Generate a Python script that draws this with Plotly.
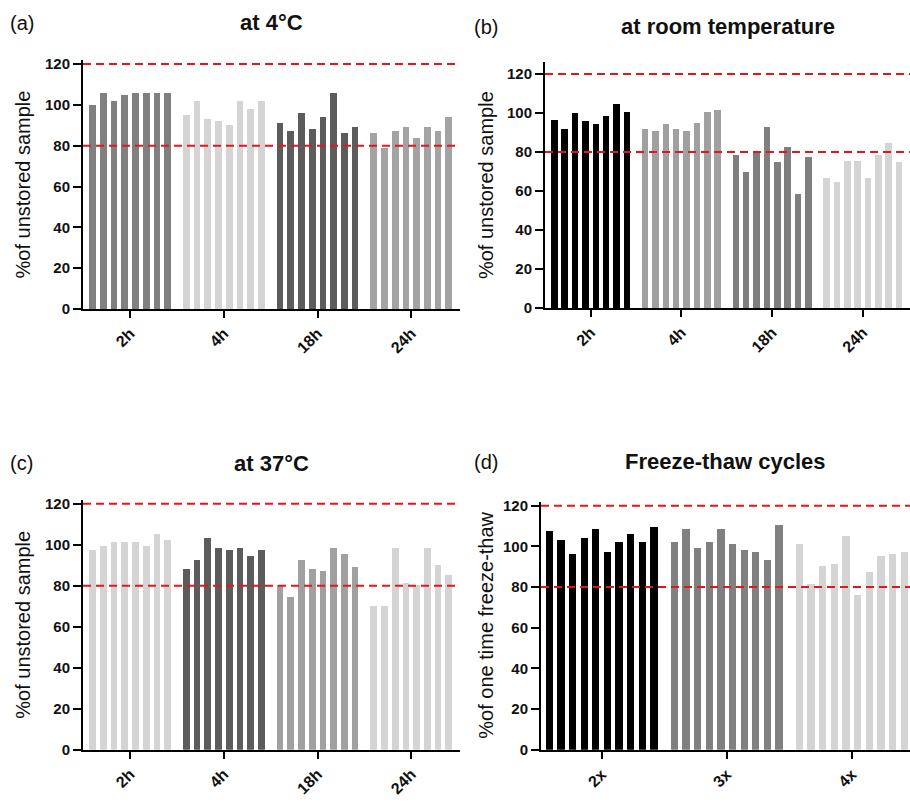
import plotly.graph_objects as go

W, H = 910, 805

# ---------------- data ----------------
a_groups = ["2h", "4h", "18h", "24h"]
a_2h = [100, 106, 102, 105, 106, 106, 106, 106]
a_4h = [95, 102, 93, 92, 90, 102, 98, 102]
a_18h = [91, 87, 96, 88, 94, 106, 86, 89]
a_24h = [86, 79, 87, 89, 84, 89, 87, 94]
a_colors = ["#808080", "#d4d4d4", "#5c5c5c", "#a3a3a3"]

b_groups = ["2h", "4h", "18h", "24h"]
b_2h = [96.5, 91.5, 100, 96, 94, 98.5, 104.5, 100.5]
b_4h = [91.5, 90.5, 94, 91.5, 90.5, 94.5, 100.5, 101.5]
b_18h = [78.5, 69.5, 79.5, 92.5, 74.5, 82.5, 58.5, 77.5]
b_24h = [66.5, 64.5, 75.5, 75.5, 66.5, 78.5, 84.5, 74.5]
b_colors = ["#000000", "#a0a0a0", "#7f7f7f", "#d4d4d4"]

c_groups = ["2h", "4h", "18h", "24h"]
c_2h = [97.5, 99.5, 101.5, 101.5, 101.5, 99.5, 105.5, 102.5]
c_4h = [88.5, 92.5, 103.5, 98.5, 97.5, 98.5, 94.5, 97.5]
c_18h = [80.5, 74.5, 92.5, 88.5, 87.5, 98.5, 95.5, 89.5]
c_24h = [70.5, 70.5, 98.5, 81.5, 80.5, 98.5, 90.5, 85.5]
c_colors = ["#d4d4d4", "#5c5c5c", "#a0a0a0", "#d4d4d4"]

d_groups = ["2x", "3x", "4x"]
d_2x = [107.5, 103.5, 96.5, 104.5, 108.5, 97.5, 102.5, 106.5, 102.5, 109.5]
d_3x = [102.5, 108.5, 99.5, 102.5, 108.5, 101.5, 98.5, 97.5, 93.5, 110.5]
d_4x = [101.5, 81.5, 90.5, 91.5, 105.5, 76.5, 87.5, 95.5, 96.5, 97.5]
d_colors = ["#000000", "#808080", "#d4d4d4"]

y_ticks = [0, 20, 40, 60, 80, 100, 120]
ref_lines = [80, 120]

panels = [
    dict(letter="(a)", title="at 4°C", ytitle="%of unstored sample",
         groups=a_groups, values=[a_2h, a_4h, a_18h, a_24h], colors=a_colors,
         box=(83, 460), y0=309, ppu=2.075, ymax=122, xpad=(0.9, 1.05),
         letter_xy=(8, 18), title_y=18, ytitle_x=23),
    dict(letter="(b)", title="at room temperature", ytitle="%of unstored sample",
         groups=b_groups, values=[b_2h, b_4h, b_18h, b_24h], colors=b_colors,
         box=(545, 910), y0=308, ppu=1.983, ymax=126, xpad=(0.9, 1.05),
         letter_xy=(472, 22), title_y=22, ytitle_x=486),
    dict(letter="(c)", title="at 37°C", ytitle="%of unstored sample",
         groups=c_groups, values=[c_2h, c_4h, c_18h, c_24h], colors=c_colors,
         box=(83, 460), y0=757, ppu=2.083, ymax=122, xpad=(0.9, 1.05),
         letter_xy=(8, 466), title_y=466, ytitle_x=23),
    dict(letter="(d)", title="Freeze-thaw cycles", ytitle="%of one time freeze-thaw",
         groups=d_groups, values=[d_2x, d_3x, d_4x], colors=d_colors,
         box=(541, 910), y0=757, ppu=2.067, ymax=122, xpad=(0.71, 0.5),
         letter_xy=(472, 464), title_y=464, ytitle_x=486),
]

GAP = 0.75
FONT = "Liberation Sans, Arial, sans-serif"

fig = go.Figure()
annotations = []
shapes = []

for k, p in enumerate(panels):
    idx = "" if k == 0 else str(k + 1)
    xa, ya = "x" + idx, "y" + idx
    n = len(p["values"][0])
    spacing = n + GAP
    tickvals = []
    for g, vals in enumerate(p["values"]):
        xs = [g * spacing + i for i in range(len(vals))]
        fig.add_trace(go.Bar(x=xs, y=vals, width=0.63, marker=dict(color=p["colors"][g], line=dict(width=0)),
                             xaxis=xa, yaxis=ya, showlegend=False, hoverinfo="skip"))
        tickvals.append(g * spacing + (len(vals) - 1) / 2)
    last = (len(p["values"]) - 1) * spacing + n - 1
    xr = [-p["xpad"][0], last + p["xpad"][1]]

    x0p, x1p = p["box"]
    top_px = p["y0"] - p["ymax"] * p["ppu"]
    xdom = [x0p / W, x1p / W]
    ydom = [1 - p["y0"] / H, 1 - top_px / H]

    axis_common = dict(showgrid=False, zeroline=False, showline=True, linecolor="black", linewidth=2,
                       ticks="outside", tickcolor="black", tickwidth=2)
    fig.update_layout(**{
        ("xaxis" + idx): dict(domain=xdom, range=xr, tickvals=tickvals, ticktext=p["groups"],
                              tickangle=-45, ticklen=7, anchor=ya,
                              tickfont=dict(family=FONT, size=16, color="#111", weight="bold"),
                              **axis_common),
        ("yaxis" + idx): dict(domain=ydom, range=[0, p["ymax"]], tickvals=y_ticks, ticklen=8,
                              anchor=xa,
                              tickfont=dict(family=FONT, size=15, color="#111", weight="bold"),
                              **axis_common),
    })

    for v in ref_lines:
        shapes.append(dict(type="line", xref=xa + " domain", yref=ya, x0=0, x1=1, y0=v, y1=v,
                           line=dict(color="#e3161b", width=2, dash="8px,5px"), layer="above"))

    annotations.append(dict(text=p["letter"], xref="paper", yref="paper",
                            x=p["letter_xy"][0] / W, y=1 - p["letter_xy"][1] / H,
                            xanchor="left", yanchor="middle", showarrow=False,
                            font=dict(family=FONT, size=20, color="#111")))
    annotations.append(dict(text=p["title"], xref="paper", yref="paper",
                            x=(x0p + x1p) / 2 / W, y=1 - p["title_y"] / H,
                            xanchor="center", yanchor="middle", showarrow=False,
                            font=dict(family=FONT, size=22, color="#111", weight="bold")))
    annotations.append(dict(text=p["ytitle"], xref="paper", yref="paper", textangle=-90,
                            x=p["ytitle_x"] / W, y=1 - (p["y0"] + top_px) / 2 / H,
                            xanchor="center", yanchor="middle", showarrow=False,
                            font=dict(family=FONT, size=20, color="#111")))

fig.update_layout(width=W, height=H, margin=dict(l=0, r=0, t=0, b=0),
                  paper_bgcolor="white", plot_bgcolor="white", bargap=0,
                  annotations=annotations, shapes=shapes)

fig.write_html("out.html")
